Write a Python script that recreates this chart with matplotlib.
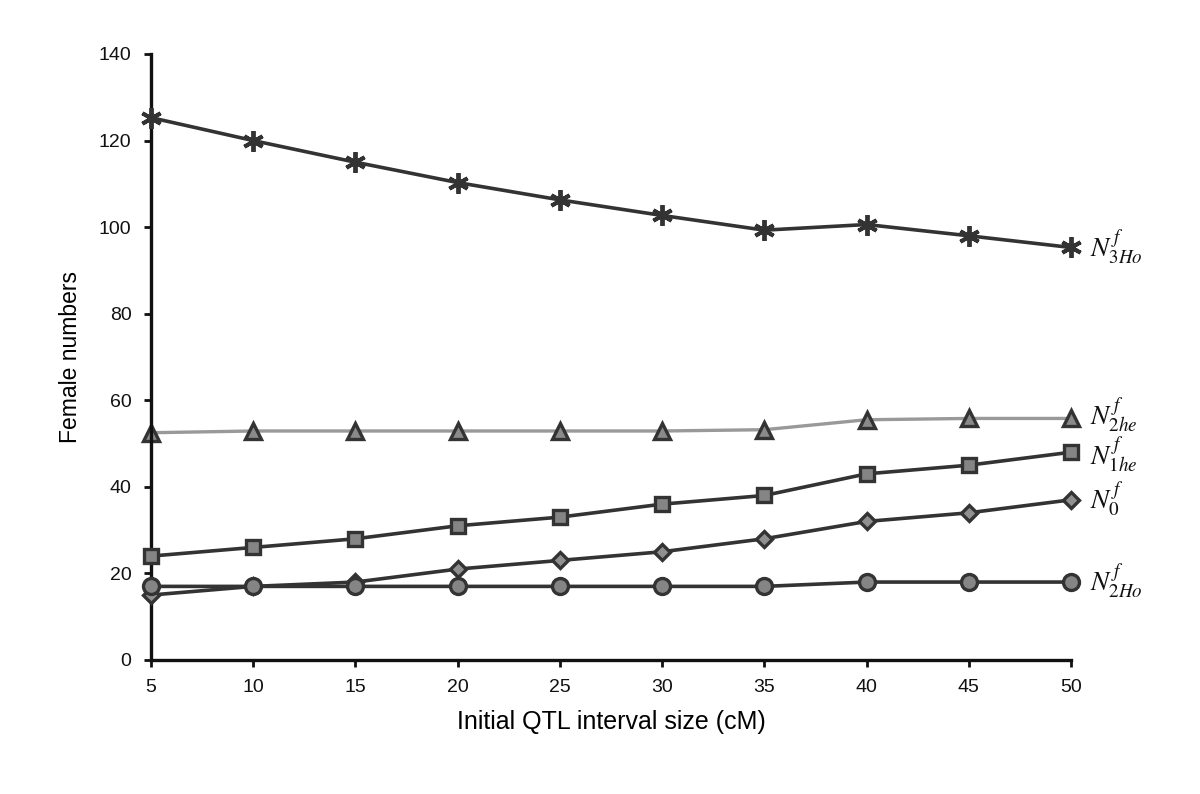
import matplotlib
matplotlib.use("Agg")
import matplotlib.pyplot as plt

plt.rcParams['font.family'] = ['Liberation Sans', 'DejaVu Sans']
plt.rcParams['mathtext.fontset'] = 'stix'

x = [5, 10, 15, 20, 25, 30, 35, 40, 45, 50]
n3ho = [125.3, 120.0, 115.0, 110.3, 106.3, 102.7, 99.3, 100.6, 98.0, 95.3]
n2he = [52.5, 52.9, 52.9, 52.9, 52.9, 52.9, 53.2, 55.5, 55.8, 55.8]
n1he = [24.0, 26.0, 28.0, 31.0, 33.0, 36.0, 38.0, 43.0, 45.0, 48.0]
n0 = [15.0, 17.0, 18.0, 21.0, 23.0, 25.0, 28.0, 32.0, 34.0, 37.0]
n2ho = [17.0, 17.0, 17.0, 17.0, 17.0, 17.0, 17.0, 18.0, 18.0, 18.0]

labels = [r'$N^{\,f}_{3Ho}$', r'$N^{\,f}_{2he}$', r'$N^{\,f}_{1he}$', r'$N^{\,f}_{0}$', r'$N^{\,f}_{2Ho}$']
label_dy = [0, 2, -2, 0, 0]
yticks = [0, 20, 40, 60, 80, 100, 120, 140]
xticks = x

fig = plt.figure(figsize=(12, 7.94), dpi=100)
ax = fig.add_axes([0.1258, 0.1688, 0.7667, 0.7632])

dark = '#333333'
ax.plot(x, n2he, color='#999999', lw=2.4, marker='^', ms=12, mfc='#8a8a8a', mec=dark, mew=2.4, zorder=2, clip_on=False)
ax.plot(x, n1he, color=dark, lw=2.6, marker='s', ms=10.5, mfc='#858585', mec=dark, mew=2.4, zorder=3, clip_on=False)
ax.plot(x, n0, color=dark, lw=2.6, marker='D', ms=8.5, mfc='#909090', mec=dark, mew=2.4, zorder=3, clip_on=False)
ax.plot(x, n2ho, color=dark, lw=2.6, marker='o', ms=11.5, mfc='#858585', mec=dark, mew=2.4, zorder=4, clip_on=False)
ax.plot(x, n3ho, color=dark, lw=2.6, marker=(6, 2, 0), ms=15, mec=dark, mew=2.8, zorder=3, clip_on=False)

series = [n3ho, n2he, n1he, n0, n2ho]
for s, lab, dy in zip(series, labels, label_dy):
    ax.annotate(lab, xy=(x[-1], s[-1]), xytext=(14, dy), textcoords='offset points',
                ha='left', va='center', fontsize=19.5, color='#111111')

ax.set_xlim(5, 50)
ax.set_ylim(0, 140)
ax.set_xticks(xticks)
ax.set_yticks(yticks)
ax.spines['top'].set_visible(False)
ax.spines['right'].set_visible(False)
for sp in ('left', 'bottom'):
    ax.spines[sp].set_linewidth(2.4)
    ax.spines[sp].set_color('#111111')
ax.tick_params(axis='both', direction='out', length=5, width=2, labelsize=14, colors='#111111', pad=9)
ax.set_xlabel('Initial QTL interval size (cM)', fontsize=18, labelpad=10)
ax.set_ylabel('Female numbers', fontsize=16.5, labelpad=12)

fig.savefig('out.png', dpi=100)
